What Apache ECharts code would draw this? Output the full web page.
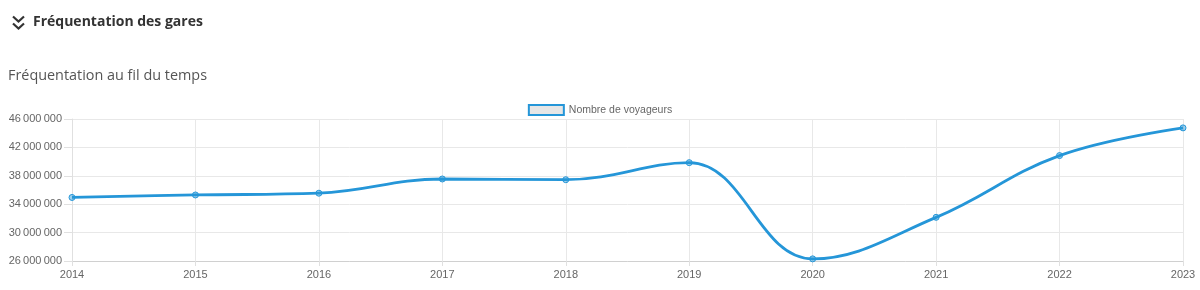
<!DOCTYPE html>
<html><head><meta charset="utf-8">
<script src="https://cdn.jsdelivr.net/npm/echarts@6/dist/echarts.min.js"></script>
<style>html,body{margin:0;padding:0;background:#fff}#c{width:1200px;height:290px}</style>
</head><body><div id="c"></div>
<script>
const years = ['2014','2015','2016','2017','2018','2019','2020','2021','2022','2023'];
const voyageurs = [34950000, 35300000, 35550000, 37550000, 37450000, 39850000, 26300000, 32150000, 40850000, 44750000];
const yTicks = { min: 26000000, max: 46000000, step: 4000000 };
const seriesName = 'Nombre de voyageurs';

const fmt = v => String(Math.round(v)).replace(/\B(?=(\d{3})+(?!\d))/g, '\u202F');
const blue = '#2596d8';
const chart = echarts.init(document.getElementById('c'), null, {renderer:'canvas'});
chart.setOption({
  animation: false,
  graphic: [
    { type:'polyline', shape:{points:[[13,16.5],[18.5,21.5],[24,16.5]]}, style:{stroke:'#333', lineWidth:2.2, fill:null} },
    { type:'polyline', shape:{points:[[13,23.5],[18.5,28.5],[24,23.5]]}, style:{stroke:'#333', lineWidth:2.2, fill:null} },
    { type:'text', left:33, top:15, style:{text:'Fréquentation des gares', font:'bold 14px "Open Sans", sans-serif', fill:'#333'} },
    { type:'text', left:8, top:69, style:{text:'Fréquentation au fil du temps', font:'14.4px "Open Sans", sans-serif', fill:'#555'} }
  ],
  legend: {
    top: 99, left: 'center', icon: 'rect', itemWidth: 35, itemHeight: 10, itemGap: 5,
    textStyle: { fontFamily: 'Liberation Sans, Arial', fontSize: 10.5, color: '#666' },
    data: [{ name: seriesName, itemStyle: { color: '#e6e6e6', borderColor: blue, borderWidth: 2 } }]
  },
  grid: { left: 72, right: 17, top: 119, bottom: 29, containLabel: false },
  xAxis: {
    type: 'category', data: years, boundaryGap: false,
    axisLine: { lineStyle: { color: '#d0d0d0' } },
    axisTick: { show: true, length: 5, lineStyle: { color: '#e0e0e0' } },
    splitLine: { show: true, lineStyle: { color: '#e8e8e8' } },
    axisLabel: { color: '#666', fontFamily: 'Liberation Sans, Arial', fontSize: 11, margin: 8 }
  },
  yAxis: {
    type: 'value', min: yTicks.min, max: yTicks.max, interval: yTicks.step,
    axisLine: { show: true, lineStyle: { color: '#e0e0e0' } },
    axisTick: { show: true, length: 8, lineStyle: { color: '#e0e0e0' } },
    splitLine: { show: true, lineStyle: { color: '#e8e8e8' } },
    axisLabel: { color: '#666', fontFamily: 'Liberation Sans, Arial', fontSize: 11, margin: 10, formatter: fmt }
  },
  series: [{
    name: seriesName, type: 'line', data: voyageurs, smooth: 0.4,
    symbol: 'circle', symbolSize: 6,
    lineStyle: { color: blue, width: 2.8 },
    itemStyle: { color: 'rgba(37,150,216,0.45)', borderColor: blue, borderWidth: 1 }
  }]
});
</script></body></html>
